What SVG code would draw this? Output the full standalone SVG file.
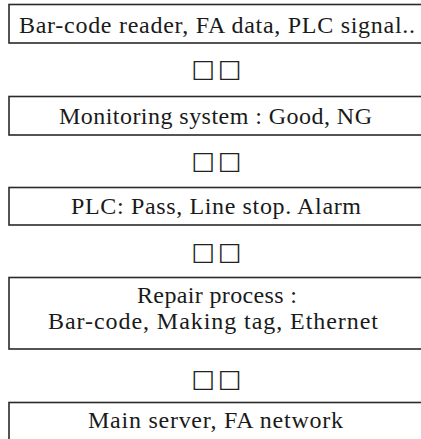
<svg xmlns="http://www.w3.org/2000/svg" width="421" height="439" viewBox="0 0 421 439">
<style>
.box{fill:#fff;stroke:#2a2a2a;stroke-width:1.6}
.t{font-family:"Liberation Serif","Times New Roman",serif;font-size:24px;fill:#1a1a1a;text-anchor:middle}
.a{font-family:"DejaVu Sans",sans-serif;font-size:25px;fill:#222;text-anchor:middle;letter-spacing:3px}
</style>
<rect width="421" height="439" fill="#fff"/>
<g id="n1"><rect class="box" x="9" y="4.5" width="420" height="38.5"/><text class="t" x="217" y="33" textLength="396" lengthAdjust="spacing">Bar-code reader, FA data, PLC signal..</text></g>
<g id="n2"><rect class="box" x="9" y="96.5" width="420" height="38.5"/><text class="t" x="215.5" y="124" textLength="313" lengthAdjust="spacing">Monitoring system : Good, NG</text></g>
<g id="n3"><rect class="box" x="9" y="187.5" width="420" height="37.5"/><text class="t" x="216" y="214" textLength="290" lengthAdjust="spacing">PLC: Pass, Line stop. Alarm</text></g>
<g id="n4"><rect class="box" x="9" y="277.5" width="420" height="71.5"/><text class="t" x="217" y="303" textLength="160" lengthAdjust="spacing">Repair process :</text><text class="t" x="213" y="329" textLength="330" lengthAdjust="spacing">Bar-code, Making tag, Ethernet</text></g>
<g id="n5"><rect class="box" x="9" y="402.5" width="420" height="45"/><text class="t" x="215.5" y="428" textLength="255" lengthAdjust="spacing">Main server, FA network</text></g>
<g id="connectors">
<text class="a" x="218" y="77">□□</text>
<text class="a" x="218" y="169">□□</text>
<text class="a" x="218" y="260">□□</text>
<text class="a" x="218" y="387">□□</text>
</g>
</svg>
